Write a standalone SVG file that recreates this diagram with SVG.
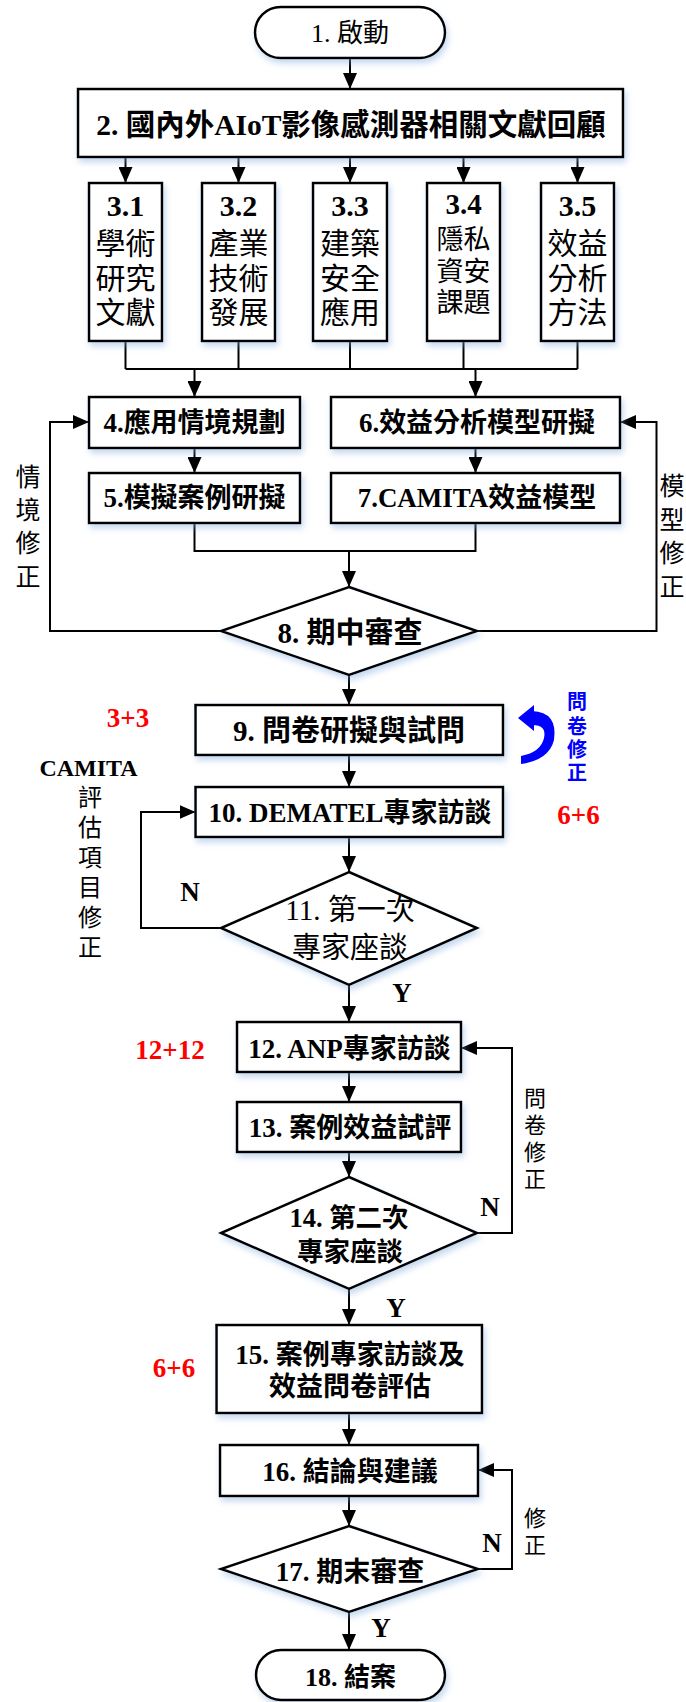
<svg xmlns="http://www.w3.org/2000/svg" width="686" height="1702" viewBox="0 0 686 1702">
<style>
.nd{fill:#fff;stroke:#000;stroke-width:2.5;filter:url(#sh)}
.ln{fill:none;stroke:#000;stroke-width:2}
.ar{fill:none;stroke:#000;stroke-width:2;marker-end:url(#ah)}
text{font-family:"Liberation Serif","Noto Sans CJK TC",serif;text-anchor:middle;dominant-baseline:central}
.b{font-weight:bold}
.t27{font-size:27px}
.red{fill:#ff0000;font-weight:bold;font-size:27px}
.lab{font-size:25px}
.yn{font-weight:bold;font-size:27px}
</style>
<defs>
<filter id="sh" x="-10%" y="-10%" width="125%" height="150%">
<feDropShadow dx="2" dy="4" stdDeviation="3" flood-color="#7fa7d9" flood-opacity="0.45"/>
</filter>
<marker id="ah" markerUnits="userSpaceOnUse" markerWidth="16" markerHeight="14" refX="16" refY="7" orient="auto">
<path d="M0,0 L16,7 L0,14 z" fill="#000"/>
</marker>
</defs>

<g id="connectors">
<path class="ar" d="M350,58 V89"/>
<path class="ar" d="M125.5,157 V183"/>
<path class="ar" d="M238.5,157 V183"/>
<path class="ar" d="M350,157 V183"/>
<path class="ar" d="M463.5,157 V183"/>
<path class="ar" d="M577.5,157 V183"/>
<path class="ln" d="M125.5,341 V369 M238.5,341 V369 M350,341 V369 M463.5,341 V369 M577.5,341 V369 M125.5,369 H577.5"/>
<path class="ar" d="M194.5,369 V397"/>
<path class="ar" d="M475.5,369 V397"/>
<path class="ar" d="M194.5,448 V473"/>
<path class="ar" d="M475.5,448 V473"/>
<path class="ln" d="M194.5,523 V551 H475.5 V523"/>
<path class="ar" d="M349,551 V587"/>
<path class="ar" d="M221,631 H50 V422 H89"/>
<path class="ar" d="M477,631 H656.5 V422 H620"/>
<path class="ar" d="M349,675 V705"/>
<path class="ar" d="M349,755 V787"/>
<path class="ar" d="M349,837 V872"/>
<path class="ar" d="M221,928 H141 V812 H195.5"/>
<path class="ar" d="M349,985 V1022"/>
<path class="ar" d="M349,1072 V1102"/>
<path class="ar" d="M349,1152 V1177"/>
<path class="ar" d="M477,1233 H512 V1048 H461"/>
<path class="ar" d="M349,1289 V1325"/>
<path class="ar" d="M349,1413 V1445"/>
<path class="ar" d="M349,1496 V1526"/>
<path class="ar" d="M478,1569 H512 V1470 H478"/>
<path class="ar" d="M349,1612 V1650"/>
</g>

<g id="n1"><rect class="nd" x="255" y="7" width="190" height="51" rx="25.5"/><text x="350" y="33" font-size="26">1. 啟動</text></g>
<g id="n2"><rect class="nd" x="78" y="89" width="545" height="68"/><text class="b" x="351" y="125" font-size="29.5">2. 國內外AIoT影像感測器相關文獻回顧</text></g>

<g id="n3_1"><rect class="nd" x="89" y="183" width="73" height="158"/>
<text class="b" x="125.5" y="205" font-size="30">3.1</text>
<text x="125.5" y="243" font-size="30">學術</text><text x="125.5" y="278" font-size="30">研究</text><text x="125.5" y="312" font-size="30">文獻</text></g>
<g id="n3_2"><rect class="nd" x="202" y="183" width="73" height="158"/>
<text class="b" x="238.5" y="205" font-size="30">3.2</text>
<text x="238.5" y="243" font-size="30">產業</text><text x="238.5" y="278" font-size="30">技術</text><text x="238.5" y="312" font-size="30">發展</text></g>
<g id="n3_3"><rect class="nd" x="313" y="183" width="74" height="158"/>
<text class="b" x="350" y="205" font-size="30">3.3</text>
<text x="350" y="243" font-size="30">建築</text><text x="350" y="278" font-size="30">安全</text><text x="350" y="312" font-size="30">應用</text></g>
<g id="n3_4"><rect class="nd" x="427" y="183" width="73" height="158"/>
<text class="b" x="463.5" y="204" font-size="29">3.4</text>
<text x="463.5" y="240" font-size="27">隱私</text><text x="463.5" y="272" font-size="27">資安</text><text x="463.5" y="303" font-size="27">課題</text></g>
<g id="n3_5"><rect class="nd" x="541" y="183" width="73" height="158"/>
<text class="b" x="577.5" y="205" font-size="30">3.5</text>
<text x="577.5" y="243" font-size="30">效益</text><text x="577.5" y="278" font-size="30">分析</text><text x="577.5" y="312" font-size="30">方法</text></g>

<g id="n4"><rect class="nd" x="89" y="397" width="211" height="51"/><text class="b t27" x="194.5" y="423">4.應用情境規劃</text></g>
<g id="n6"><rect class="nd" x="331" y="397" width="289" height="51"/><text class="b t27" x="477" y="423">6.效益分析模型研擬</text></g>
<g id="n5"><rect class="nd" x="89" y="473" width="211" height="50"/><text class="b t27" x="194.5" y="498">5.模擬案例研擬</text></g>
<g id="n7"><rect class="nd" x="331" y="473" width="289" height="50"/><text class="b t27" x="477" y="498">7.CAMITA效益模型</text></g>

<g id="n8"><polygon class="nd" points="349,587 477,631 349,675 221,631"/><text class="b" x="350" y="633" font-size="29">8. 期中審查</text></g>
<g id="n9"><rect class="nd" x="195.5" y="705" width="307.5" height="50"/><text class="b" x="349" y="731" font-size="29">9. 問卷研擬與試問</text></g>
<g id="n10"><rect class="nd" x="195.5" y="787" width="307.5" height="50"/><text class="b t27" x="350" y="813">10. DEMATEL專家訪談</text></g>
<g id="n11"><polygon class="nd" points="349,872 477,928 349,985 221,928"/><text x="350" y="910" font-size="29">11. 第一次</text><text x="350" y="948" font-size="29">專家座談</text></g>
<g id="n12"><rect class="nd" x="237" y="1022" width="224" height="50"/><text class="b t27" x="349.5" y="1049">12. ANP專家訪談</text></g>
<g id="n13"><rect class="nd" x="237" y="1102" width="224" height="50"/><text class="b t27" x="350" y="1128">13. 案例效益試評</text></g>
<g id="n14"><polygon class="nd" points="349,1177 477,1233 349,1289 221,1233"/><text class="b" x="349" y="1218" font-size="26.5">14. 第二次</text><text class="b" x="350" y="1252" font-size="26.5">專家座談</text></g>
<g id="n15"><rect class="nd" x="216.5" y="1325" width="265.5" height="88"/><text class="b t27" x="350" y="1355">15. 案例專家訪談及</text><text class="b t27" x="350" y="1387">效益問卷評估</text></g>
<g id="n16"><rect class="nd" x="220" y="1445" width="258" height="51"/><text class="b t27" x="350" y="1472">16. 結論與建議</text></g>
<g id="n17"><polygon class="nd" points="349,1526 478,1569 349,1612 221,1569"/><text class="b t27" x="350" y="1572">17. 期末審查</text></g>
<g id="n18"><rect class="nd" x="256" y="1650" width="189" height="50" rx="25"/><text class="b" x="350.5" y="1677" font-size="26">18. 結案</text></g>

<g id="labels">
<text class="lab" x="28"><tspan x="28" y="477">情</tspan><tspan x="28" y="510">境</tspan><tspan x="28" y="543">修</tspan><tspan x="28" y="577">正</tspan></text>
<text class="lab" x="672"><tspan x="672" y="486">模</tspan><tspan x="672" y="520">型</tspan><tspan x="672" y="553">修</tspan><tspan x="672" y="587">正</tspan></text>
<text class="red" x="128" y="718">3+3</text>
<path d="M518,718 L534,705 L534,731 Z M532,711 Q558,712 554,740 Q549,760 521,764 L521,756 Q541,752 544,738 Q547,725 532,725 Z" fill="#0000ff"/>
<text class="b" x="577" y="0" font-size="20" fill="#0000ff"><tspan x="577" y="702">問</tspan><tspan x="577" y="727">卷</tspan><tspan x="577" y="750">修</tspan><tspan x="577" y="773">正</tspan></text>
<text class="b" x="88.5" y="768" font-size="24">CAMITA</text>
<text font-size="24" x="90"><tspan x="90" y="798">評</tspan><tspan x="90" y="828">估</tspan><tspan x="90" y="858">項</tspan><tspan x="90" y="888">目</tspan><tspan x="90" y="918">修</tspan><tspan x="90" y="948">正</tspan></text>
<text class="red" x="578.5" y="815">6+6</text>
<text class="yn" x="190" y="892">N</text>
<text class="yn" x="402" y="993">Y</text>
<text class="red" x="170" y="1050" font-size="26">12+12</text>
<text font-size="22" x="535"><tspan x="535" y="1098">問</tspan><tspan x="535" y="1125">卷</tspan><tspan x="535" y="1152">修</tspan><tspan x="535" y="1179">正</tspan></text>
<text class="yn" x="490" y="1207">N</text>
<text class="yn" x="396" y="1308">Y</text>
<text class="red" x="174" y="1368">6+6</text>
<text font-size="22" x="535"><tspan x="535" y="1518">修</tspan><tspan x="535" y="1545">正</tspan></text>
<text class="yn" x="492" y="1543">N</text>
<text class="yn" x="381" y="1628">Y</text>
</g>
</svg>
